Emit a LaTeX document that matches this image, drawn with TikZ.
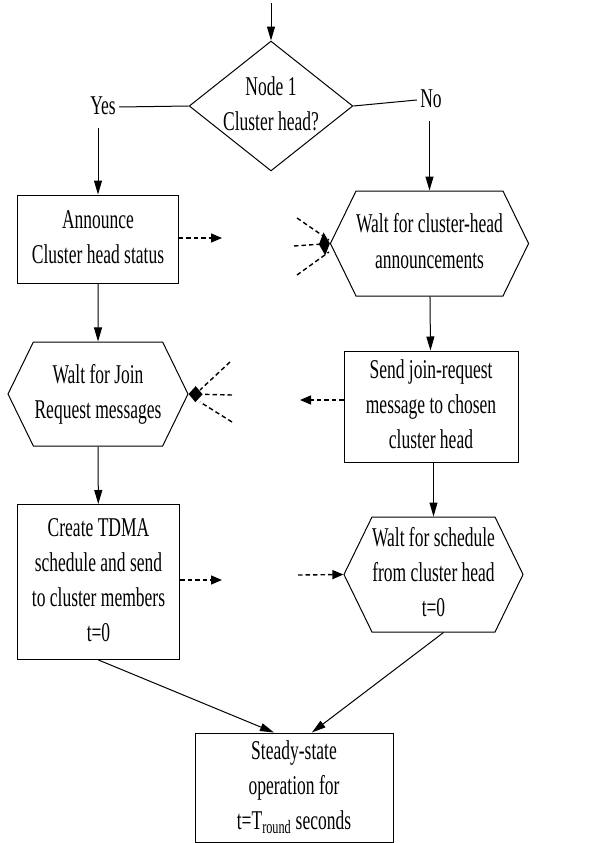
\documentclass[tikz,border=0pt]{standalone}
\usepackage{graphicx}
\usepackage{fontspec}
\setmainfont{Liberation Serif}
\usetikzlibrary{shapes.geometric,shapes.symbols,arrows.meta,positioning}
\tikzset{%
  box/.style={draw, rectangle, line width=1bp, align=center, inner sep=0pt},% process step
  waitbox/.style={draw, signal, signal to=west and east, signal pointer angle=128,
    line width=1bp, align=center, inner sep=0pt},% waiting step
  decision/.style={draw, diamond, aspect=1.26, line width=1bp, align=center, inner sep=-4.5bp},% test
  flow/.style={line width=1bp, -{Triangle[length=14bp,width=8bp]}},% control flow
  msg/.style={line width=1.4bp, dash pattern=on 4.5bp off 3bp, -{Triangle[length=11bp,width=9bp]}},% message out
  fan/.style={line width=1.4bp, dash pattern=on 4.5bp off 3bp}% messages in
}
% narrow, tall lettering of the scan
\newcommand*{\tall}[1]{\scalebox{1}[1.55]{\begin{tabular}{@{}c@{}}#1\end{tabular}}}
\begin{document}
\begin{tikzpicture}[x=1bp, y=-1bp, every node/.style={font=\fontsize{17.5bp}{22.6bp}\selectfont}]
\useasboundingbox (0,0) rectangle (595,843);
\coordinate (start) at (271,3);
\node[decision, minimum width=163bp, minimum height=129bp] (dec) at (271,106) {\tall{Node 1\\Cluster head?}};
\node (yes) at (103,107) {\tall{Yes}};
\node (no) at (431,100) {\tall{No}};
\node[box, minimum width=160bp, minimum height=88bp] (announce) at (98,239) {\tall{Announce\\Cluster head status}};
\node[waitbox, minimum width=181bp, minimum height=105bp] (waitch) at (429.5,243.5) {\tall{Walt for cluster-head\\announcements}};
\node[waitbox, minimum width=180bp, minimum height=104bp] (waitjoin) at (98,394) {\tall{Walt for Join\\Request messages}};
\node[box, minimum width=174bp, minimum height=111bp] (sendjoin) at (431,406.5) {\tall{Send join-request\\message to chosen\\cluster head}};
\node[box, minimum width=162bp, minimum height=155bp] (tdma) at (98.5,582) {\tall{Create TDMA\\schedule and send\\to cluster members\\t=0}};
\node[waitbox, minimum width=177bp, minimum height=115bp] (waitsch) at (433.5,574.5) {\tall{Walt for schedule\\from cluster head\\t=0}};
\node[box, minimum width=198bp, minimum height=109bp] (steady) at (294,787.5) {\tall{Steady-state\\operation for\\t=T\textsubscript{round} seconds}};

% decision branches
\draw[flow] (start) -- (dec);
\draw[line width=1bp] (dec.west) -- (yes.east);
\draw[line width=1bp] (dec.east) -- (no.west);
\draw[flow] (yes.south -| announce.north) -- (announce.north);
\draw[flow] (no.south -| waitch.north) -- (waitch.north);

% left column
\draw[flow] (announce) -- (waitjoin);
\draw[flow] (waitjoin) -- (tdma);
\draw[flow] (tdma.south) -- (steady.110);

% right column
\draw[flow] (waitch) -- (sendjoin);
\draw[flow] (sendjoin.south -| waitsch.north) -- (waitsch.north);
\draw[flow] ([xshift=10bp]waitsch.south) -- (steady.72);

% messages
\coordinate (annout) at (222,238);
\draw[msg] (announce.east |- annout) -- (annout);
\coordinate (chin) at (294,246);
\draw[fan] (297,218) -- (329,240);
\draw[fan, -{Diamond[length=11bp,width=23bp]}] (chin) -- (waitch.west);
\draw[fan] (297,275) -- (329,252);

\coordinate (joinout) at (300,400);
\draw[msg] (sendjoin.west |- joinout) -- (joinout);
\coordinate (joinin) at (232,395);
\draw[fan, -{Diamond[length=14bp,width=16bp]}] (joinin) -- (waitjoin.east);
\draw[fan] (230,362) -- (200,390);
\draw[fan] (232,422) -- (200,402);

\coordinate (tdmaout) at (222,580);
\draw[msg] (tdma.east |- tdmaout) -- (tdmaout);
\coordinate (schin) at (298,575);
\draw[msg] (schin) -- (waitsch.west);
\end{tikzpicture}
\end{document}
